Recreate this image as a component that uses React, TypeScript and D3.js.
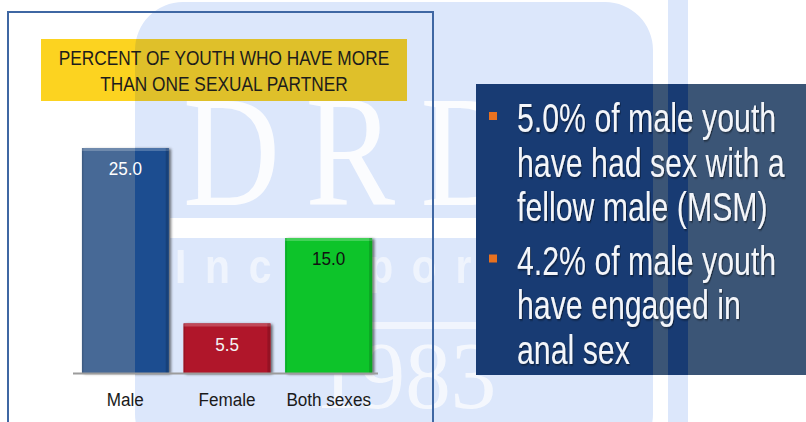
import React from 'react';
import * as d3 from 'd3';

// ---------- data ----------
const categories = ['Male', 'Female', 'Both sexes'];
const values = [25.0, 5.5, 15.0];
const valueLabels = ['25.0', '5.5', '15.0'];
const titleLines = ['PERCENT OF YOUTH WHO HAVE MORE', 'THAN ONE SEXUAL PARTNER'];
const bulletPoints = [
  ['5.0% of male youth', 'have had sex with a', 'fellow male (MSM)'],
  ['4.2% of male youth', 'have engaged in', 'anal sex'],
];
const watermarkWords = ['DRDF', 'Incorporated', '1983'];

// ---------- styles ----------
const W = 806;
const H = 422;
const SANS = '"Liberation Sans", Arial, sans-serif';
const SERIF = '"Liberation Serif", "Times New Roman", serif';
const PAL_OUT = { title: '#fcd320', bars: ['#476996', '#b01429', '#07c42a'], panel: '#3b5576' };
const PAL_IN = { title: '#dfc02a', bars: ['#1f4e90', '#b01429', '#07c42a'], panel: '#183b73' };
const valueColors = ['#ffffff', '#f4f4f4', '#111111'];
const WM_BG = '#dce7fb';

const frame = { x: 8, y: 12, w: 425, h: 430 };
const titleBox = { x: 41, y: 39, w: 366, h: 62 };
const panel = { x: 476, y: 84, w: 330, h: 291 };

function T({ x, y, sx = 1, size, anchor = 'start', fill, weight = 'normal', family = SANS, children, ...rest }: any) {
  return (
    <text
      transform={`translate(${x},${y}) scale(${sx},1)`}
      fontSize={size}
      textAnchor={anchor}
      fill={fill}
      fontWeight={weight}
      fontFamily={family}
      {...rest}
    >
      {children}
    </text>
  );
}

export default function App() {
  const x = d3
    .scaleBand<string>()
    .domain(categories)
    .range([74, 380])
    .paddingInner(0.147)
    .paddingOuter(0.078);
  const y = d3.scaleLinear().domain([0, 25]).range([373, 148]);
  const [r0, r1] = x.range();

  const shapes = (pal: typeof PAL_OUT) => (
    <g>
      <rect x={titleBox.x} y={titleBox.y} width={titleBox.w} height={titleBox.h} fill={pal.title} />
      {categories.map((c, i) => (
        <rect
          key={c}
          x={x(c)}
          y={y(values[i])}
          width={x.bandwidth()}
          height={y(0) - y(values[i])}
          fill={pal.bars[i]}
          filter="url(#barShadow)"
        />
      ))}
      <rect x={panel.x} y={panel.y} width={panel.w} height={panel.h} fill={pal.panel} />
    </g>
  );

  const lineStep = 44.5;
  const paraGap = 9;
  const firstBase = 132;

  return (
    <svg
      width={W}
      height={H}
      viewBox={`0 0 ${W} ${H}`}
      style={{ position: 'absolute', left: 0, top: 0, display: 'block' }}
    >
      <defs>
        <clipPath id="wm">
          <rect x={135} y={2} width={518} height={460} rx={48} />
          <rect x={668} y={0} width={20} height={H} />
        </clipPath>
        <filter id="barShadow" x="-10%" y="-10%" width="130%" height="130%">
          <feDropShadow dx={2} dy={1} stdDeviation={1.5} floodColor="#000" floodOpacity={0.35} />
        </filter>
        <filter id="txtShadow" x="-5%" y="-20%" width="110%" height="140%">
          <feDropShadow dx={1.2} dy={1.2} stdDeviation={0.8} floodColor="#000" floodOpacity={0.55} />
        </filter>
      </defs>

      {/* background + watermark */}
      <rect x={0} y={0} width={W} height={H} fill="#ffffff" />
      <g clipPath="url(#wm)">
        <rect x={0} y={0} width={W} height={H} fill={WM_BG} />
        <rect x={170} y={218} width={490} height={20} fill="#ffffff" />
        <rect x={290} y={322} width={240} height={7} fill="#ffffff" opacity={0.6} />
        <T x={183} y={205} sx={0.85} size={158} family={SERIF} fill="#ffffff" opacity={0.9} letterSpacing={30}>
          {watermarkWords[0]}
        </T>
        <T x={175} y={283} sx={0.85} size={48} weight="bold" fill="#ffffff" opacity={0.55} letterSpacing={22}>
          {watermarkWords[1]}
        </T>
        <T x={314} y={408} sx={0.95} size={96} family={SERIF} fill="#ffffff" opacity={0.7}>
          {watermarkWords[2]}
        </T>
      </g>

      {/* chart shapes: outside watermark, then inside watermark */}
      {shapes(PAL_OUT)}
      <g clipPath="url(#wm)">{shapes(PAL_IN)}</g>

      {/* bar bevels */}
      {categories.map((c, i) => (
        <g key={c}>
          <rect x={x(c)} y={y(values[i])} width={x.bandwidth()} height={3} fill="#ffffff" opacity={0.22} />
          <rect x={(x(c) as number) + x.bandwidth() - 3} y={y(values[i])} width={3} height={y(0) - y(values[i])} fill="#000" opacity={0.15} />
          <rect x={x(c)} y={y(values[i])} width={1.5} height={y(0) - y(values[i])} fill="#000" opacity={0.12} />
        </g>
      ))}

      {/* axis baseline */}
      <line x1={r0 - 1} x2={r1 - 2} y1={y(0) + 0.5} y2={y(0) + 0.5} stroke="#9c9c9c" strokeWidth={2} />

      {/* chart frame */}
      <rect x={frame.x} y={frame.y} width={frame.w} height={frame.h} fill="none" stroke="#3f67a3" strokeWidth={2} />

      {/* title */}
      {titleLines.map((t, i) => (
        <T key={t} x={224} y={65 + i * 26} sx={0.865} size={20} anchor="middle" fill="#1c1c1c">
          {t}
        </T>
      ))}

      {/* value labels */}
      {categories.map((c, i) => (
        <T
          key={c}
          x={(x(c) as number) + x.bandwidth() / 2}
          y={y(values[i]) + 27}
          sx={0.9}
          size={19}
          anchor="middle"
          fill={valueColors[i]}
        >
          {valueLabels[i]}
        </T>
      ))}

      {/* category labels */}
      {categories.map((c) => (
        <T key={c} x={(x(c) as number) + x.bandwidth() / 2} y={406} sx={0.9} size={19} anchor="middle" fill="#1a1a1a">
          {c}
        </T>
      ))}

      {/* bullet panel text */}
      {bulletPoints.map((lines, p) => {
        const base = firstBase + p * (lines.length * lineStep + paraGap);
        return (
          <g key={p}>
            <rect x={489} y={base - 20} width={8} height={8} fill="#e8711f" />
            {lines.map((l, j) => (
              <T
                key={l}
                x={517}
                y={base + j * lineStep}
                sx={0.757}
                size={40}
                fill="#f4f6fa"
                filter="url(#txtShadow)"
              >
                {l}
              </T>
            ))}
          </g>
        );
      })}
    </svg>
  );
}
